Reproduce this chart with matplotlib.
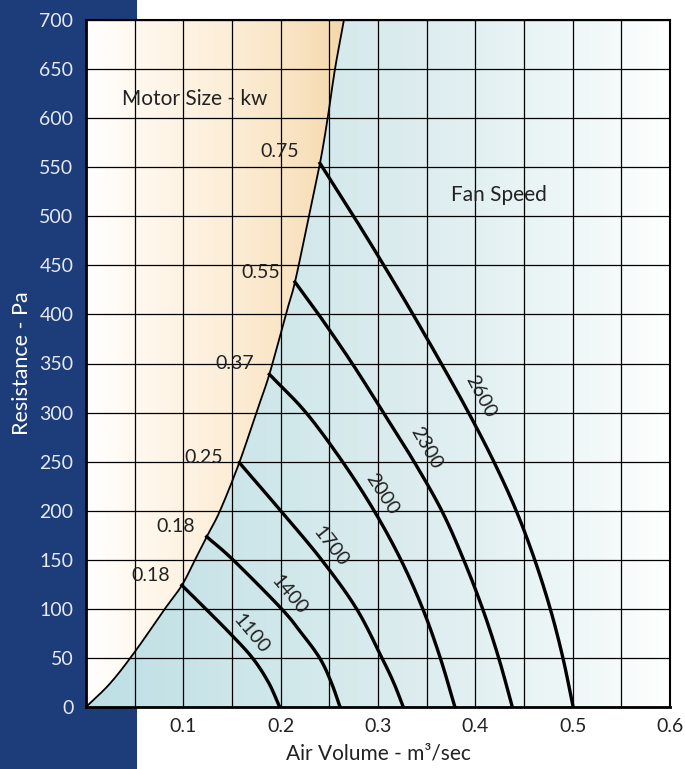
import numpy as np
import matplotlib
matplotlib.use("Agg")
import matplotlib.pyplot as plt
from matplotlib.colors import LinearSegmentedColormap
from matplotlib.patches import Polygon, Rectangle

plt.rcParams['font.family'] = ['Lato', 'DejaVu Sans']

# ---- data ----
# boundary (system / motor limit) curve
bound_x = [0, 0.0247, 0.05, 0.081, 0.0985, 0.112, 0.124, 0.1377, 0.1575, 0.175,
           0.1884, 0.2053, 0.2147, 0.229, 0.2404, 0.2483, 0.2558, 0.265]
bound_y = [0, 24, 56, 100, 124, 150, 173.5, 200, 249, 300,
           339, 400, 433, 500, 554, 600, 650, 700]

# fan speed curves (rpm)
fan_speeds = ["1100", "1400", "1700", "2000", "2300", "2600"]
fan_x = [
    [0.0985, 0.123, 0.148, 0.171, 0.1875, 0.199],
    [0.124, 0.151, 0.2, 0.22, 0.24, 0.252, 0.261],
    [0.1575, 0.2, 0.242, 0.278, 0.304, 0.316, 0.326],
    [0.1884, 0.226, 0.2635, 0.296, 0.3235, 0.346, 0.364, 0.379],
    [0.2147, 0.239, 0.2735, 0.3055, 0.337, 0.3655, 0.388, 0.4075, 0.424, 0.438],
    [0.2404, 0.275, 0.306, 0.336, 0.365, 0.393, 0.419, 0.442, 0.461, 0.477, 0.490, 0.5005],
]
fan_y = [
    [124, 100, 75, 50, 25, 0],
    [173.5, 150, 101, 77, 50, 25, 0],
    [249, 200, 150, 100, 50, 25, 0],
    [339, 300, 250, 200, 150, 100, 50, 0],
    [433, 400, 350, 300, 250, 200, 150, 100, 50, 0],
    [554, 500, 450, 400, 350, 300, 250, 200, 150, 100, 50, 0],
]
fan_label_x = [0.170, 0.2086, 0.251, 0.3038, 0.350, 0.405]
fan_label_y = [75, 114, 164, 217, 263.6, 316]
fan_label_rot = [-50, -50, -52, -57, -60, -62]

# motor size labels (kW)
motor_labels = ["0.18", "0.18", "0.25", "0.37", "0.55", "0.75"]
motor_label_x = [0.0668, 0.0925, 0.1212, 0.153, 0.1798, 0.1993]
motor_label_y = [133.5, 184.4, 254, 350.5, 443, 566]

x_ticks = [0.1, 0.2, 0.3, 0.4, 0.5, 0.6]
x_tick_labels = ["0.1", "0.2", "0.3", "0.4", "0.5", "0.6"]
y_ticks = list(range(0, 701, 50))


def smooth(xs, ys, n=20):
    """Catmull-Rom rendering through the given points (drawing only)."""
    p = np.column_stack([xs, ys]).astype(float)
    scale = np.array([0.6, 700.0])
    q = p / scale
    q = np.vstack([2 * q[0] - q[1], q, 2 * q[-1] - q[-2]])
    out = []
    for i in range(1, len(q) - 2):
        p0, p1, p2, p3 = q[i - 1], q[i], q[i + 1], q[i + 2]
        t = np.linspace(0, 1, n, endpoint=False)[:, None]
        seg = 0.5 * ((2 * p1) + (-p0 + p2) * t + (2 * p0 - 5 * p1 + 4 * p2 - p3) * t ** 2
                     + (-p0 + 3 * p1 - 3 * p2 + p3) * t ** 3)
        out.append(seg)
    out.append(q[-2][None, :])
    r = np.vstack(out) * scale
    return r[:, 0], r[:, 1]


# ---- figure ----
W, H = 685, 769
fig = plt.figure(figsize=(W / 100, H / 100), dpi=100)
fig.patch.set_facecolor('white')
navy = '#1d3d7a'
bg = fig.add_axes([0, 0, 1, 1], zorder=0)
bg.set_xlim(0, W)
bg.set_ylim(0, H)
bg.axis('off')
bg.add_patch(Rectangle((0, 0), 137, H, facecolor=navy, edgecolor='none'))

ax = fig.add_axes([86 / W, 1 - 707 / H, (670 - 86) / W, (707 - 20) / H], zorder=1)
ax.set_facecolor('white')
ax.set_xlim(0, 0.6)
ax.set_ylim(0, 700)

# gradients
orange_cmap = LinearSegmentedColormap.from_list('org', [
    (0.0, (1.0, 1.0, 1.0)),
    (0.08, (1.0, 0.975, 0.94)),
    (0.25, (0.99, 0.93, 0.84)),
    (0.37, (0.975, 0.885, 0.75)),
    (0.45, (0.96, 0.845, 0.66)),
    (1.0, (0.96, 0.845, 0.66))])
blue_cmap = LinearSegmentedColormap.from_list('blu', [
    (0.0, (0.74, 0.875, 0.895)),
    (0.2, (0.79, 0.895, 0.91)),
    (0.4, (0.83, 0.915, 0.925)),
    (0.55, (0.86, 0.925, 0.935)),
    (0.75, (0.91, 0.955, 0.96)),
    (0.88, (0.95, 0.975, 0.975)),
    (1.0, (1.0, 1.0, 1.0))])
grad = np.linspace(0, 1, 512)[np.newaxis, :]

sbx, sby = smooth(bound_x, bound_y)
bpts = list(zip(sbx, sby))
org_poly = Polygon(bpts + [(0, 700)], closed=True, transform=ax.transData,
                   facecolor='none', edgecolor='none')
blu_poly = Polygon(bpts + [(0.6, 700), (0.6, 0)], closed=True, transform=ax.transData,
                   facecolor='none', edgecolor='none')
ax.add_patch(org_poly)
ax.add_patch(blu_poly)
im1 = ax.imshow(grad, extent=[0, 0.6, 0, 700], aspect='auto', cmap=orange_cmap,
                zorder=0.5, interpolation='bilinear')
im1.set_clip_path(org_poly)
im2 = ax.imshow(grad, extent=[0, 0.6, 0, 700], aspect='auto', cmap=blue_cmap,
                zorder=0.5, interpolation='bilinear')
im2.set_clip_path(blu_poly)

# grid
ax.set_xticks(x_ticks)
ax.set_xticklabels(x_tick_labels)
ax.set_xticks(np.arange(0.05, 0.6, 0.05), minor=True)
ax.set_yticks(y_ticks)
ax.grid(True, which='both', color='black', lw=0.9, zorder=1)
ax.set_axisbelow(False)
ax.tick_params(which='both', length=0)
ax.tick_params(axis='x', labelsize=14, labelcolor='#222222', pad=8)
ax.tick_params(axis='y', labelsize=14, labelcolor='#e6e9f2', pad=9)
for s in ax.spines.values():
    s.set_linewidth(1.5)
    s.set_color('black')
    s.set_zorder(5)
ax.spines['left'].set_linewidth(2)
ax.spines['bottom'].set_linewidth(2)

# boundary curve
ax.plot(sbx, sby, color='black', lw=1.3, zorder=3, solid_capstyle='round')

# fan curves
for xs_, ys_ in zip(fan_x, fan_y):
    fx, fy = smooth(xs_, ys_)
    ax.plot(fx, fy, color='black', lw=2.4, zorder=3, solid_joinstyle='round')
for lab, lx, ly, r in zip(fan_speeds, fan_label_x, fan_label_y, fan_label_rot):
    ax.text(lx, ly, lab, rotation=r, ha='center', va='center', fontsize=14,
            color='#222222', zorder=4, rotation_mode='anchor')

for lab, lx, ly in zip(motor_labels, motor_label_x, motor_label_y):
    ax.text(lx, ly, lab, ha='center', va='center', fontsize=14, color='#222222', zorder=4)

ax.text(0.037, 620, "Motor Size - kw", ha='left', va='center', fontsize=15,
        color='#222222', zorder=4)
ax.text(0.375, 522, "Fan Speed", ha='left', va='center', fontsize=15,
        color='#222222', zorder=4)

ax.set_xlabel("Air Volume - m³/sec", fontsize=15, color='#222222', labelpad=6)
ax.set_ylabel("Resistance - Pa", fontsize=15.5, color='white', labelpad=5)

fig.savefig("out.png", dpi=100)
